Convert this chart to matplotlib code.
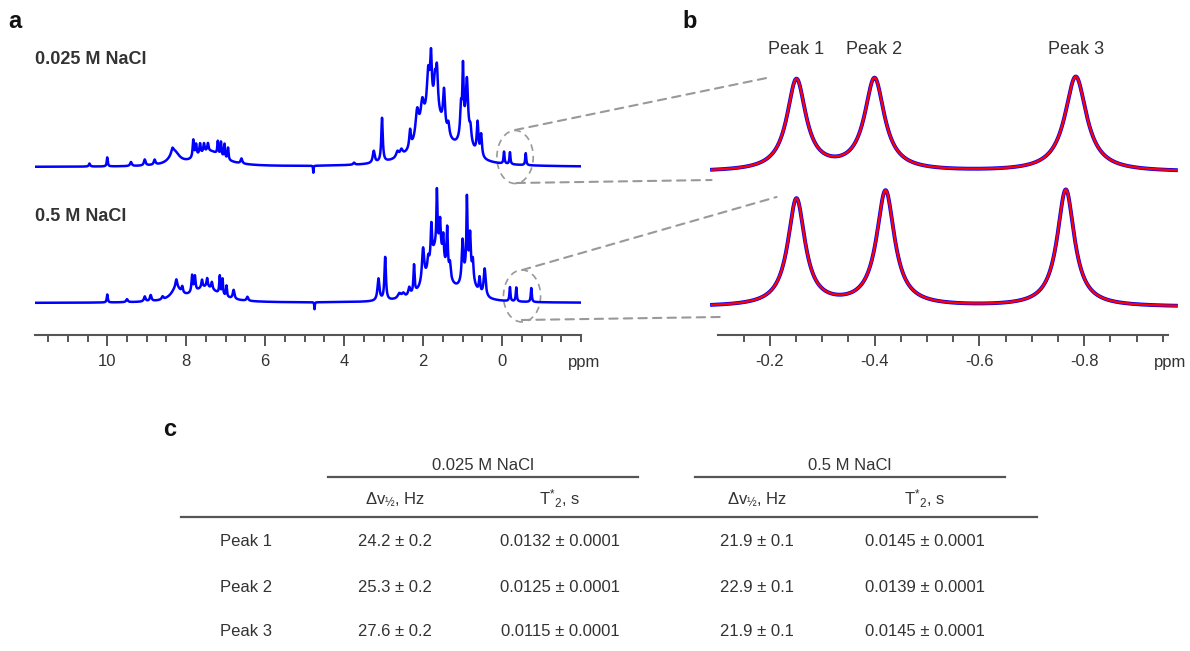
import numpy as np
import matplotlib
matplotlib.use("Agg")
import matplotlib.pyplot as plt
from matplotlib.patches import Ellipse, ConnectionPatch
from matplotlib.lines import Line2D

plt.rcParams["font.family"] = ["Liberation Sans", "DejaVu Sans"]
plt.rcParams["axes.unicode_minus"] = False
plt.rcParams["mathtext.fontset"] = "custom"
plt.rcParams["mathtext.rm"] = "Liberation Sans"
plt.rcParams["mathtext.it"] = "Liberation Sans:italic"
plt.rcParams["mathtext.bf"] = "Liberation Sans:bold"

# ---- panel a: 1H spectra, peak lists (ppm, height, fwhm ppm)
TOP_PPM = [8.3, 7.4, 10.45, 10.0, 9.4, 9.05, 8.8, 8.35, 7.82, 7.75, 7.65, 7.55, 7.45,
           7.2, 7.12, 7.03, 6.94, 6.6, 4.78,
           1.75, 0.92, 3.75, 3.25, 3.04, 2.65, 2.55, 2.33, 2.15, 2.02, 1.87, 1.80,
           1.70, 1.65, 1.47, 1.36, 1.04, 0.99, 0.89, 0.80, 0.62, 0.53,
           -0.05, -0.2, -0.6]
TOP_HEIGHT = [13, 15, 3, 9, 4, 6, 5, 5, 18, 12, 11, 9, 8,
              13, 14, 14, 12, 5, -7,
              55, 30, 2, 12, 44, 6, 6, 18, 28, 25, 40, 48,
              25, 40, 38, 12, 28, 60, 48, 12, 32, 22,
              12, 12, 12]
TOP_WIDTH = [0.3, 0.8, 0.04, 0.03, 0.05, 0.05, 0.05, 0.06, 0.04, 0.04, 0.04, 0.04, 0.04,
             0.03, 0.03, 0.03, 0.03, 0.05, 0.015,
             0.75, 0.3, 0.05, 0.06, 0.045, 0.08, 0.08, 0.05, 0.1, 0.1, 0.08, 0.05,
             0.06, 0.06, 0.06, 0.06, 0.05, 0.035, 0.06, 0.05, 0.05, 0.05,
             0.03, 0.03, 0.03]

BOT_PPM = [8.25, 7.5, 10.0, 9.5, 9.05, 8.9, 8.6, 8.25, 8.1, 7.85, 7.78, 7.6, 7.47,
           7.35, 7.15, 7.08, 6.98, 6.8, 6.45, 4.75,
           1.65, 0.85, 3.13, 2.96, 2.6, 2.5, 2.35, 2.23, 2.0, 1.87, 1.79, 1.65,
           1.57, 1.49, 1.39, 1.32, 1.0, 0.89, 0.81, 0.74, 0.57, 0.44,
           -0.2, -0.36, -0.74]
BOT_HEIGHT = [12, 15, 8, 3, 5, 6, 3, 8, 6, 17, 15, 8, 9,
              7, 18, 16, 11, 9, 4, -7,
              55, 30, 22, 43, 5, 4, 8, 28, 35, 12, 35, 55,
              30, 25, 45, 15, 40, 70, 35, 18, 15, 28,
              14, 14, 14]
BOT_WIDTH = [0.3, 0.8, 0.03, 0.05, 0.05, 0.05, 0.05, 0.05, 0.04, 0.04, 0.04, 0.04, 0.04,
             0.04, 0.03, 0.03, 0.03, 0.05, 0.05, 0.015,
             0.5, 0.3, 0.06, 0.045, 0.1, 0.08, 0.06, 0.035, 0.07, 0.05, 0.04, 0.03,
             0.04, 0.04, 0.04, 0.05, 0.05, 0.03, 0.04, 0.04, 0.04, 0.06,
             0.03, 0.03, 0.03]

A_LABELS = ["0.025 M NaCl", "0.5 M NaCl"]

# ---- panel b: the three fitted upfield peaks
SF_MHZ = 550.0
PEAK_NAMES = ["Peak 1", "Peak 2", "Peak 3"]
B_TOP_PPM = [-0.251, -0.400, -0.784]
B_TOP_HZ = [24.2, 25.3, 27.6]
B_TOP_HEIGHT = [91, 92, 95]
B_BOT_PPM = [-0.251, -0.421, -0.765]
B_BOT_HZ = [21.9, 22.9, 21.9]
B_BOT_HEIGHT = [107, 115, 117]

# ---- panel c: table
COND = ["0.025 M NaCl", "0.5 M NaCl"]
SUBHEAD = [r"Δv$_{½}$, Hz", r"T$^{*}$$_{2}$, s"]
ROWS = ["Peak 1", "Peak 2", "Peak 3"]
CELLS = [
    ["24.2 ± 0.2", "0.0132 ± 0.0001", "21.9 ± 0.1", "0.0145 ± 0.0001"],
    ["25.3 ± 0.2", "0.0125 ± 0.0001", "22.9 ± 0.1", "0.0139 ± 0.0001"],
    ["27.6 ± 0.2", "0.0115 ± 0.0001", "21.9 ± 0.1", "0.0145 ± 0.0001"],
]

W, H = 1190, 651
TXT = "#333333"
AX = "#555555"
DASH = "#999999"


def fx(px):
    return px / W


def fy(py):
    return 1 - py / H


def lorentz_sum(x, centers, heights, widths):
    y = np.zeros_like(x)
    for c, h, w in zip(centers, heights, widths):
        g = (w / 2) ** 2
        y += h * g / ((x - c) ** 2 + g)
    return y


def style_axis(ax):
    for s in ("left", "top", "right"):
        ax.spines[s].set_visible(False)
    ax.spines["bottom"].set_color(AX)
    ax.spines["bottom"].set_linewidth(1.5)
    ax.set_yticks([])
    ax.tick_params(axis="x", which="major", direction="out", length=8, width=1.4,
                   color=AX, labelcolor=TXT, labelsize=12, pad=6)
    ax.tick_params(axis="x", which="minor", direction="out", length=5, width=1.4, color=AX)
    ax.patch.set_alpha(0)


fig = plt.figure(figsize=(W / 100, H / 100), dpi=100)

# panel a
ax_a = fig.add_axes([fx(35), fy(335), fx(581) - fx(35), 300 / H])
ppm = np.linspace(12.0, -2.1, 8000)
top = 168 + lorentz_sum(ppm, TOP_PPM, TOP_HEIGHT, TOP_WIDTH)
bot = 32 + lorentz_sum(ppm, BOT_PPM, BOT_HEIGHT, BOT_WIDTH)
ax_a.plot(ppm, top, color="#0000ff", lw=1.8)
ax_a.plot(ppm, bot, color="#0000ff", lw=1.8)
ax_a.set_xlim(11.83, -2.0)
ax_a.set_ylim(0, 300)
ax_a.set_xticks([10, 8, 6, 4, 2, 0])
ax_a.set_xticks(np.arange(-2.0, 11.6, 0.5), minor=True)
ax_a.set_xticklabels(["10", "8", "6", "4", "2", "0"])
style_axis(ax_a)

ell_top = Ellipse((-0.33, 178), width=0.92, height=53, fill=False, ec=DASH,
                  lw=1.2, ls=(0, (4, 3)), clip_on=False)
ell_bot = Ellipse((-0.506, 39), width=0.94, height=52, fill=False, ec=DASH,
                  lw=1.2, ls=(0, (4, 3)), clip_on=False)
ax_a.add_patch(ell_top)
ax_a.add_patch(ell_bot)

fig.text(fx(35), fy(60), A_LABELS[0], fontsize=13, fontweight="bold", color=TXT,
         ha="left", va="center")
fig.text(fx(35), fy(217), A_LABELS[1], fontsize=13, fontweight="bold", color=TXT,
         ha="left", va="center")
fig.text(fx(584), fy(362), "ppm", fontsize=12, color=TXT, ha="center", va="center")
fig.text(fx(8), fy(22), "a", fontsize=17, fontweight="bold", color="#111111",
         ha="left", va="center")

# panel b
ax_b = fig.add_axes([fx(718), fy(335), fx(1168) - fx(718), 300 / H])
ppm_b = np.linspace(-0.09, -0.975, 3000)
wid_top = [hz / SF_MHZ for hz in B_TOP_HZ]
wid_bot = [hz / SF_MHZ for hz in B_BOT_HZ]
b_top = 163 + lorentz_sum(ppm_b, B_TOP_PPM, B_TOP_HEIGHT, wid_top)
b_bot = 28 + lorentz_sum(ppm_b, B_BOT_PPM, B_BOT_HEIGHT, wid_bot)
for yy in (b_top, b_bot):
    ax_b.plot(ppm_b, yy, color="#0000ff", lw=2.8, clip_on=False)
    ax_b.plot(ppm_b, yy, color="#ff0000", lw=1.7, clip_on=False)
ax_b.set_xlim(-0.1013, -0.960)
ax_b.set_ylim(0, 300)
ax_b.set_xticks([-0.2, -0.4, -0.6, -0.8])
ax_b.set_xticks(np.arange(-0.95, -0.149, 0.05), minor=True)
ax_b.set_xticklabels(["-0.2", "-0.4", "-0.6", "-0.8"])
style_axis(ax_b)
for name, p in zip(PEAK_NAMES, B_TOP_PPM):
    ax_b.text(p, 286, name, fontsize=13, color=TXT, ha="center", va="center")
fig.text(fx(1170), fy(362), "ppm", fontsize=12, color=TXT, ha="center", va="center")
fig.text(fx(682), fy(22), "b", fontsize=17, fontweight="bold", color="#111111",
         ha="left", va="center")

# dashed zoom connectors
links = [((-0.33, 205), (-0.194, 257)), ((-0.37, 152), (-0.089, 155)),
         ((-0.51, 65), (-0.213, 138)), ((-0.50, 15), (-0.105, 18))]
for a_pt, b_pt in links:
    con = ConnectionPatch(xyA=a_pt, coordsA=ax_a.transData, xyB=b_pt,
                          coordsB=ax_b.transData, color=DASH, lw=1.5,
                          ls=(0, (4, 3)))
    fig.add_artist(con)

# panel c: table
fig.text(fx(163), fy(430), "c", fontsize=17, fontweight="bold", color="#111111",
         ha="left", va="center")
col_x = [395, 560, 757, 925]
grp_x = [(328, 638), (695, 1005)]
for (x0, x1), cond in zip(grp_x, COND):
    fig.text(fx((x0 + x1) / 2), fy(465), cond, fontsize=12, color=TXT,
             ha="center", va="center")
    fig.add_artist(Line2D([fx(x0), fx(x1)], [fy(477), fy(477)], color=AX, lw=1.6))
for i, cx in enumerate(col_x):
    fig.text(fx(cx), fy(499), SUBHEAD[i % 2], fontsize=12, color=TXT,
             ha="center", va="center")
fig.add_artist(Line2D([fx(181), fx(1037)], [fy(517), fy(517)], color=AX, lw=1.6))
row_y = [541, 587, 632]
for ry, name, vals in zip(row_y, ROWS, CELLS):
    fig.text(fx(246), fy(ry), name, fontsize=12, color=TXT, ha="center", va="center")
    for cx, v in zip(col_x, vals):
        fig.text(fx(cx), fy(ry), v, fontsize=12, color=TXT, ha="center", va="center")

fig.savefig("out.png", dpi=100)
